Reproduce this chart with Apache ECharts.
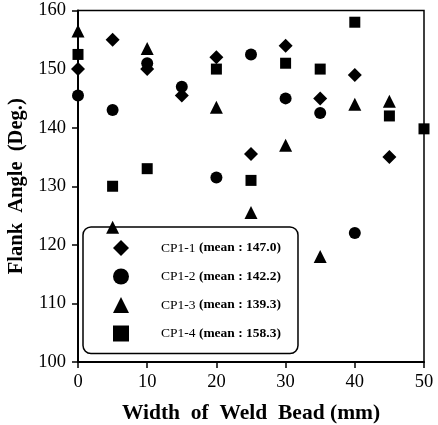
<!DOCTYPE html>
<html>
<head>
<meta charset="utf-8">
<script src="https://cdn.jsdelivr.net/npm/echarts@6/dist/echarts.min.js"></script>
<style>
  html, body { margin: 0; padding: 0; background: #fff; }
  #chart { width: 438px; height: 425px; }
</style>
</head>
<body>
<div id="chart"></div>
<script>
// bead width positions (mm)
const widths = [0, 5, 10, 15, 20, 25, 30, 35, 40, 45, 50]

// flank angles per specimen, null = no point
const cp1 = [150, 155, 150, 145.5, 152, 135.5, 154, 145, 149, 135, null]
const cp2 = [145.5, 143, 151, 147, 131.5, 152.5, 145, 142.5, 122, null, null]
const cp3 = [156.5, 123, 153.5, null, 143.5, 125.5, 137, 118, 144, 144.5, null]
const cp4 = [152.5, 130, 133, null, 150, 131, 151, 150, 158, 142, 139.8]

const names = ['CP1-1', 'CP1-2', 'CP1-3', 'CP1-4']
const means = ['147.0', '142.2', '139.3', '158.3']
const symbols = ['diamond', 'circle', 'triangle', 'rect']
const sizes = [14, 12, 13, 11]

const yTicks = [100, 110, 120, 130, 140, 150, 160]
const xTicks = [0, 10, 20, 30, 40, 50]

const serif = '"Liberation Serif", "Times New Roman", serif'

const chart = echarts.init(document.getElementById('chart'))

const series = [cp1, cp2, cp3, cp4].map((vals, i) => ({
  name: names[i],
  type: 'scatter',
  symbol: symbols[i],
  symbolSize: sizes[i],
  itemStyle: { color: '#000', opacity: 1 },
  data: widths.map((w, k) => (vals[k] == null ? null : [w, vals[k]])).filter(d => d)
}))

const option = {
  animation: false,
  grid: {
    left: 78,
    right: 14,
    top: 10.5,
    bottom: 63,
    outerBoundsMode: 'none',
    show: true,
    borderColor: '#000',
    borderWidth: 1.5
  },
  legend: {
    orient: 'vertical',
    left: 83,
    top: 227,
    itemWidth: 16,
    itemHeight: 16,
    itemGap: 12.5,
    padding: [13, 17, 12, 30],
    borderColor: '#000',
    borderWidth: 1.5,
    borderRadius: 8,
    data: names,
    formatter: (n) => {
      const i = names.indexOf(n)
      return '{a|' + n + '} {b|(mean : ' + means[i] + ')}'
    },
    textStyle: {
      fontFamily: serif,
      fontSize: 13.5,
      color: '#000',
      rich: {
        a: { fontFamily: serif, fontSize: 13.5, color: '#000', padding: [0, 0, 0, 27] },
        b: { fontFamily: serif, fontSize: 13.5, fontWeight: 'bold', color: '#000' }
      }
    }
  },
  xAxis: {
    type: 'value',
    min: 0,
    max: 50,
    interval: 10,
    name: 'Width  of  Weld  Bead (mm)',
    nameLocation: 'middle',
    nameGap: 40,
    nameTextStyle: { fontFamily: serif, fontSize: 21.5, fontWeight: 'bold', color: '#000' },
    axisLine: { lineStyle: { color: '#000', width: 2 } },
    axisTick: { show: true, length: 6, lineStyle: { color: '#000', width: 1.5 } },
    axisLabel: {
      fontFamily: serif, fontSize: 18.5, color: '#000', margin: 11,
      formatter: v => (xTicks.includes(v) ? String(v) : '')
    },
    splitLine: { show: false }
  },
  yAxis: {
    type: 'value',
    min: 100,
    max: 160,
    interval: 10,
    name: 'Flank  Angle  (Deg.)',
    nameLocation: 'middle',
    nameGap: 49,
    nameTextStyle: { fontFamily: serif, fontSize: 20.5, fontWeight: 'bold', color: '#000' },
    axisLine: { show: true, lineStyle: { color: '#000', width: 2 } },
    axisTick: { show: true, length: 6, lineStyle: { color: '#000', width: 1.5 } },
    axisLabel: {
      fontFamily: serif, fontSize: 18.5, color: '#000', margin: 12,
      formatter: v => (yTicks.includes(v) ? String(v) : '')
    },
    splitLine: { show: false }
  },
  series: series
}

chart.setOption(option)
</script>
</body>
</html>
